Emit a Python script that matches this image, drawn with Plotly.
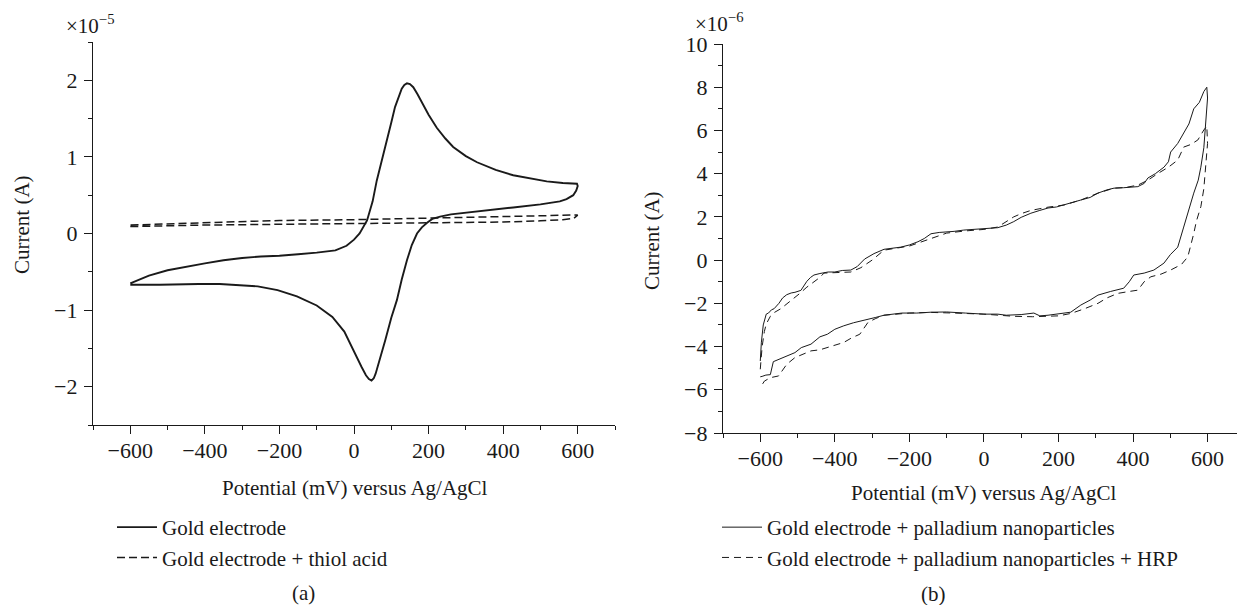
import plotly.graph_objects as go

# ---------------- Panel (a): potential (mV), current (x1e-5 A) ----------------
gold_mv = [-600, -550, -500, -450, -400, -350, -300, -250, -200, -150, -100, -50, -20, 0, 15, 35, 50, 61, 75, 88,
           100, 110, 120, 128, 135, 142, 150, 159, 170, 185, 200, 222, 245, 266, 300, 330, 380, 427, 470, 517,
           560, 588, 598,
           600, 596, 588, 570, 552, 500, 427, 360, 303, 260, 231, 210, 196, 182, 169, 155, 142, 128, 115, 100,
           84, 68, 58, 53, 47, 40, 32, 20, 11, -5, -26, -58, -100, -153, -205, -258, -311, -360, -416, -470,
           -521, -560, -600]
gold_cur = [-0.65, -0.55, -0.48, -0.43, -0.39, -0.35, -0.32, -0.30, -0.29, -0.27, -0.25, -0.22, -0.16, -0.08, 0.0,
            0.17, 0.42, 0.69, 0.95, 1.21, 1.45, 1.65, 1.80, 1.89, 1.94, 1.96, 1.95, 1.91, 1.82, 1.68, 1.55, 1.38,
            1.24, 1.13, 1.01, 0.93, 0.83, 0.76, 0.72, 0.68, 0.66, 0.65, 0.65,
            0.62, 0.56, 0.50, 0.45, 0.42, 0.38, 0.34, 0.30, 0.27, 0.25, 0.22, 0.19, 0.14, 0.08, 0.0, -0.15, -0.35,
            -0.60, -0.87, -1.10, -1.39, -1.68, -1.83, -1.89, -1.92, -1.90, -1.85, -1.74, -1.65, -1.48, -1.28,
            -1.09, -0.94, -0.82, -0.74, -0.69, -0.67, -0.66, -0.66, -0.67, -0.67, -0.67, -0.67]

thiol_mv = [-600, -400, -200, 0, 200, 400, 500, 560, 590, 600,
            600, 580, 400, 200, 0, -200, -400, -600]
thiol_cur = [0.09, 0.11, 0.12, 0.13, 0.14, 0.15, 0.165, 0.18, 0.20, 0.23,
             0.24, 0.24, 0.22, 0.20, 0.18, 0.17, 0.14, 0.11]

# ---------------- Panel (b): potential (mV), current (x1e-6 A) ----------------
pd_mv = [-600, -597, -592, -584, -578, -570, -563, -550, -540, -529, -517, -507, -491, -475, -465, -456, -440,
         -418, -400, -380, -357, -340, -320, -295, -268, -245, -223, -200, -177, -160, -142, -120, -100, -80,
         -54, -30, 0, 20, 37, 60, 80, 100, 126, 150, 172, 195, 215, 240, 260, 285, 306, 330, 349, 375, 395, 413,
         430, 440, 460, 483, 495, 501, 520, 536, 550, 563, 578, 590, 598,
         600, 597, 595, 590, 582, 575, 563, 550, 536, 520, 500, 483, 470, 456, 430, 402, 390, 375, 340, 306,
         285, 260, 233, 200, 172, 150, 134, 100, 60, 37, 0, -50, -100, -142, -180, -220, -250, -268, -290,
         -322, -350, -376, -400, -420, -440, -464, -490, -507, -530, -551, -565, -573, -585, -595, -600]
pd_cur = [-4.67, -3.8, -3.0, -2.5, -2.45, -2.3, -2.25, -2.0, -1.75, -1.60, -1.52, -1.49, -1.40, -0.98, -0.80,
          -0.69, -0.62, -0.55, -0.55, -0.48, -0.46, -0.30, 0.05, 0.30, 0.50, 0.55, 0.60, 0.70, 0.85, 1.00, 1.22,
          1.28, 1.30, 1.33, 1.39, 1.42, 1.45, 1.46, 1.50, 1.62, 1.78, 1.98, 2.17, 2.30, 2.41, 2.46, 2.55, 2.66,
          2.78, 2.90, 3.10, 3.25, 3.33, 3.35, 3.37, 3.40, 3.55, 3.80, 4.00, 4.30, 4.55, 5.00, 5.40, 5.88, 6.30,
          7.00, 7.30, 7.80, 8.0,
          7.5, 6.8, 6.2, 5.2, 4.3, 3.7, 3.1, 2.3, 1.53, 0.6, 0.25, -0.14, -0.30, -0.46, -0.60, -0.69, -1.0, -1.30,
          -1.45, -1.62, -1.85, -2.08, -2.41, -2.50, -2.55, -2.58, -2.45, -2.52, -2.55, -2.50, -2.50, -2.45,
          -2.40, -2.41, -2.45, -2.45, -2.50, -2.55, -2.65, -2.78, -2.90, -3.04, -3.20, -3.43, -3.55, -3.89,
          -4.05, -4.28, -4.45, -4.60, -4.70, -5.30, -5.32, -5.38, -5.40]

hrp_mv = [-600, -595, -589, -584, -573, -562, -545, -529, -510, -496, -475, -453, -440, -429, -400, -357, -330,
          -300, -268, -240, -200, -150, -100, -50, 0, 37, 60, 80, 100, 126, 172, 215, 260, 306, 349, 380, 413,
          440, 466, 495, 520, 536, 555, 574, 590, 598,
          600, 597, 595, 590, 582, 570, 563, 547, 530, 501, 475, 448, 430, 413, 390, 359, 330, 306, 270, 233,
          200, 172, 130, 80, 0, -80, -142, -200, -250, -268, -290, -311, -333, -355, -376, -400, -420, -440,
          -464, -485, -507, -529, -551, -573, -589, -600]
hrp_cur = [-5.05, -4.0, -3.3, -2.96, -2.6, -2.42, -2.25, -2.03, -1.80, -1.57, -1.25, -0.95, -0.80, -0.60, -0.58,
           -0.55, -0.35, 0.0, 0.46, 0.55, 0.65, 0.95, 1.25, 1.35, 1.42, 1.53, 1.80, 2.00, 2.15, 2.30, 2.45, 2.55,
           2.78, 3.10, 3.33, 3.36, 3.47, 3.70, 4.00, 4.30, 4.63, 5.23, 5.35, 5.56, 6.02, 6.2,
           5.4, 4.8, 4.0, 3.3, 2.47, 1.8, 1.23, 0.15, -0.20, -0.46, -0.65, -0.77, -1.0, -1.39, -1.45, -1.54,
           -1.75, -2.0, -2.25, -2.47, -2.58, -2.60, -2.62, -2.60, -2.50, -2.45, -2.42, -2.45, -2.50, -2.55,
           -2.70, -2.88, -3.43, -3.60, -3.81, -3.95, -4.05, -4.15, -4.20, -4.35, -4.51, -4.82, -5.36, -5.44,
           -5.6, -5.9]

W, H = 1237, 605
FONT = "Liberation Serif"
INK = "#1a1a1a"
TXT = 21


def px(x):
    return x / W


def py(y):
    return 1 - y / H


fig = go.Figure()
fig.add_trace(go.Scatter(x=gold_mv, y=gold_cur, mode="lines", name="Gold electrode",
                         line=dict(color=INK, width=1.9), xaxis="x", yaxis="y", legend="legend"))
fig.add_trace(go.Scatter(x=thiol_mv, y=thiol_cur, mode="lines", name="Gold electrode + thiol acid",
                         line=dict(color=INK, width=1.5, dash="8px,4px"), xaxis="x", yaxis="y", legend="legend"))
fig.add_trace(go.Scatter(x=pd_mv, y=pd_cur, mode="lines", name="Gold electrode + palladium nanoparticles",
                         line=dict(color=INK, width=1.0), xaxis="x2", yaxis="y2", legend="legend2"))
fig.add_trace(go.Scatter(x=hrp_mv, y=hrp_cur, mode="lines",
                         name="Gold electrode + palladium nanoparticles + HRP",
                         line=dict(color=INK, width=1.0, dash="7px,5px"), xaxis="x2", yaxis="y2",
                         legend="legend2"))

axis_common = dict(showline=True, linecolor=INK, linewidth=1.4, showgrid=False, zeroline=False,
                   ticks="outside", ticklen=8, tickwidth=1.3, tickcolor=INK, automargin=False,
                   tickfont=dict(family=FONT, size=22, color=INK))
minor_common = dict(ticks="outside", ticklen=4, tickcolor=INK, tickwidth=1.3)

fig.update_layout(
    width=W, height=H, margin=dict(l=0, r=0, t=0, b=0, pad=0), autosize=False,
    paper_bgcolor="white", plot_bgcolor="white",
    font=dict(family=FONT, size=TXT, color=INK),
    xaxis=dict(domain=[px(93), px(615)], range=[-700, 700], tick0=0, dtick=200, anchor="y",
               ticklabelstandoff=-3, minor=dict(dtick=100, **minor_common), **axis_common),
    yaxis=dict(domain=[py(425), py(42)], range=[-2.5, 2.5], tick0=0, dtick=1, anchor="x",
               ticklabelstandoff=2, minor=dict(dtick=0.5, **minor_common), **axis_common),
    xaxis2=dict(domain=[px(723), 1.0], range=[-700, 679], tick0=0, dtick=200, anchor="y2",
                ticklabelstandoff=-3, minor=dict(dtick=100, **minor_common), **axis_common),
    yaxis2=dict(domain=[py(433), py(44)], range=[-8, 10], tick0=0, dtick=2, anchor="x2",
                ticklabelstandoff=2, minor=dict(dtick=1, **minor_common), **axis_common),
    legend=dict(x=px(112), y=py(507), xanchor="left", yanchor="top", bgcolor="rgba(0,0,0,0)",
                font=dict(family=FONT, size=TXT, color=INK), itemwidth=40),
    legend2=dict(x=px(717), y=py(507), xanchor="left", yanchor="top", bgcolor="rgba(0,0,0,0)",
                 font=dict(family=FONT, size=TXT, color=INK), itemwidth=40),
    showlegend=True,
)

ann = [
    dict(text="×10<sup>−5</sup>", x=px(64), y=py(25), xanchor="left", yanchor="middle", size=21),
    dict(text="×10<sup>−6</sup>", x=px(693), y=py(22), xanchor="left", yanchor="middle", size=21),
    dict(text="Current (A)", x=px(22), y=py(225), textangle=-90, xanchor="center", yanchor="middle"),
    dict(text="Current (A)", x=px(652), y=py(241), textangle=-90, xanchor="center", yanchor="middle"),
    dict(text="Potential (mV) versus Ag/AgCl", x=px(355), y=py(488), xanchor="center", yanchor="middle"),
    dict(text="Potential (mV) versus Ag/AgCl", x=px(984), y=py(493), xanchor="center", yanchor="middle"),
    dict(text="(a)", x=px(303), y=py(593), xanchor="center", yanchor="middle"),
    dict(text="(b)", x=px(933), y=py(594), xanchor="center", yanchor="middle"),
]
for a in ann:
    size = a.pop("size", TXT)
    a.update(xref="paper", yref="paper", showarrow=False,
             font=dict(family=FONT, color=INK, size=size))
fig.update_layout(annotations=ann)

fig.write_html("out.html",
               post_script="document.body.style.margin='0';document.body.style.overflow='hidden';")
